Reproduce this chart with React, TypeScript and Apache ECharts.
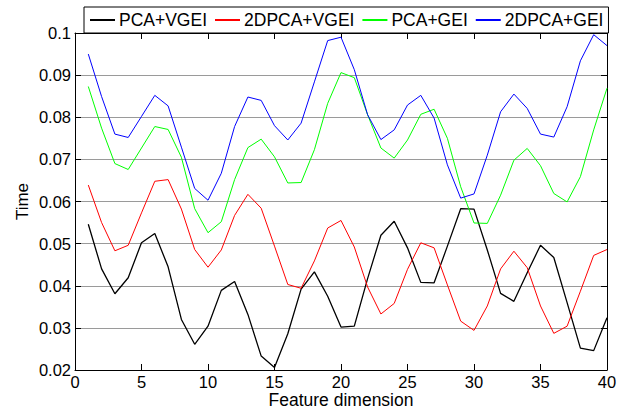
import React, { useEffect, useRef } from "react";
import * as echarts from "echarts";

const dims = [1, 2, 3, 4, 5, 6, 7, 8, 9, 10, 11, 12, 13, 14, 15, 16, 17, 18, 19, 20, 21, 22, 23, 24, 25, 26, 27, 28, 29, 30, 31, 32, 33, 34, 35, 36, 37, 38, 39, 40];

const pcaVgei = [0.0546, 0.0440, 0.0381, 0.0419, 0.0502, 0.0524, 0.0445, 0.0320, 0.0261, 0.0304, 0.0389, 0.0410, 0.0332, 0.0233, 0.0206, 0.0286, 0.0392, 0.0433, 0.0375, 0.0302, 0.0304, 0.0417, 0.0520, 0.0553, 0.0490, 0.0408, 0.0407, 0.0494, 0.0583, 0.0582, 0.0485, 0.0382, 0.0363, 0.0431, 0.0496, 0.0467, 0.0360, 0.0252, 0.0246, 0.0324];

const dpcaVgei = [0.0639, 0.0550, 0.0483, 0.0496, 0.0573, 0.0648, 0.0652, 0.0582, 0.0486, 0.0444, 0.0485, 0.0567, 0.0617, 0.0584, 0.0494, 0.0403, 0.0394, 0.0459, 0.0537, 0.0555, 0.0492, 0.0397, 0.0333, 0.0358, 0.0439, 0.0502, 0.0490, 0.0402, 0.0316, 0.0294, 0.0352, 0.0440, 0.0482, 0.0443, 0.0352, 0.0287, 0.0304, 0.0387, 0.0472, 0.0486];

const pcaGei = [0.0873, 0.0774, 0.0690, 0.0676, 0.0727, 0.0778, 0.0771, 0.0705, 0.0583, 0.0526, 0.0552, 0.0652, 0.0728, 0.0748, 0.0706, 0.0644, 0.0645, 0.0723, 0.0833, 0.0906, 0.0894, 0.0806, 0.0727, 0.0703, 0.0746, 0.0807, 0.0819, 0.0750, 0.0635, 0.0549, 0.0548, 0.0615, 0.0698, 0.0726, 0.0685, 0.0619, 0.0599, 0.0659, 0.0770, 0.0869];

const dpcaGei = [0.0950, 0.0849, 0.0760, 0.0752, 0.0802, 0.0852, 0.0827, 0.0729, 0.0631, 0.0603, 0.0667, 0.0778, 0.0848, 0.0840, 0.0780, 0.0746, 0.0786, 0.0884, 0.0982, 0.0990, 0.0913, 0.0806, 0.0747, 0.0770, 0.0829, 0.0852, 0.0798, 0.0687, 0.0608, 0.0618, 0.0710, 0.0813, 0.0855, 0.0821, 0.0760, 0.0753, 0.0825, 0.0934, 0.0996, 0.0970];

const seriesNames = ["PCA+VGEI", "2DPCA+VGEI", "PCA+GEI", "2DPCA+GEI"];
const seriesColors = ["#000000", "#ff0000", "#00ff00", "#0000ff"];
const seriesValues = [pcaVgei, dpcaVgei, pcaGei, dpcaGei];

const FONT = "'Liberation Sans', Arial, Helvetica, sans-serif";

export default function App() {
  const ref = useRef<HTMLDivElement>(null);

  useEffect(() => {
    if (!ref.current) return;
    const chart = echarts.init(ref.current, undefined, { renderer: "svg" });

    const tickCommon = { show: true, inside: true, length: 6, lineStyle: { color: "#000", width: 1 } };
    const lineCommon = { show: true, onZero: false, lineStyle: { color: "#000", width: 1 } };

    chart.setOption({
      animation: false,
      backgroundColor: "#ffffff",
      textStyle: { fontFamily: FONT },
      grid: { left: 75, right: 21, top: 33, bottom: 42, containLabel: false, outerBoundsMode: "none" },
      legend: {
        show: true,
        data: seriesNames,
        left: 84,
        top: 7,
        orient: "horizontal",
        itemWidth: 25,
        itemHeight: 2,
        itemGap: 7,
        padding: [4, 5, 4, 5],
        borderColor: "#000",
        borderWidth: 1,
        backgroundColor: "#ffffff",
        z: 10,
        textStyle: { fontFamily: FONT, fontSize: 17.5, color: "#000", padding: [0, 0, 0, -1] },
      },
      xAxis: [
        {
          type: "value",
          min: 0,
          max: 40,
          interval: 5,
          name: "Feature dimension",
          nameLocation: "middle",
          nameGap: 21,
          nameMoveOverlap: false,
          nameTextStyle: { fontFamily: FONT, fontSize: 17.5, lineHeight: 17, color: "#000" },
          axisLine: lineCommon,
          axisTick: tickCommon,
          axisLabel: { show: true, margin: 4, fontFamily: FONT, fontSize: 16.5, lineHeight: 16, color: "#000" },
          splitLine: { show: false },
        },
        {
          type: "value",
          position: "top",
          min: 0,
          max: 40,
          interval: 5,
          axisLine: lineCommon,
          axisTick: tickCommon,
          axisLabel: { show: false },
          splitLine: { show: false },
        },
      ],
      yAxis: [
        {
          type: "value",
          min: 0.02,
          max: 0.1,
          interval: 0.01,
          name: "Time",
          nameLocation: "middle",
          nameGap: 44,
          nameMoveOverlap: false,
          nameTextStyle: { fontFamily: FONT, fontSize: 17, color: "#000" },
          axisLine: lineCommon,
          axisTick: tickCommon,
          axisLabel: {
            show: true,
            margin: 4,
            fontFamily: FONT,
            fontSize: 16.5,
            color: "#000",
            formatter: (v: number) => String(+v.toFixed(2)),
          },
          splitLine: { show: true, lineStyle: { color: "#9a9a9a", width: 1 } },
        },
        {
          type: "value",
          position: "right",
          min: 0.02,
          max: 0.1,
          interval: 0.01,
          axisLine: lineCommon,
          axisTick: tickCommon,
          axisLabel: { show: false },
          splitLine: { show: false },
        },
      ],
      series: seriesNames.map((name, i) => ({
        name,
        type: "line",
        xAxisIndex: 0,
        yAxisIndex: 0,
        symbol: "none",
        showSymbol: false,
        color: seriesColors[i],
        lineStyle: { color: seriesColors[i], width: i === 0 ? 1.3 : 1 },
        data: dims.map((d, j) => [d, seriesValues[i][j]]),
      })),
    });

    return () => chart.dispose();
  }, []);

  return (
    <div
      ref={ref}
      style={{ position: "absolute", left: 0, top: 0, width: 628, height: 412, background: "#fff" }}
    />
  );
}
